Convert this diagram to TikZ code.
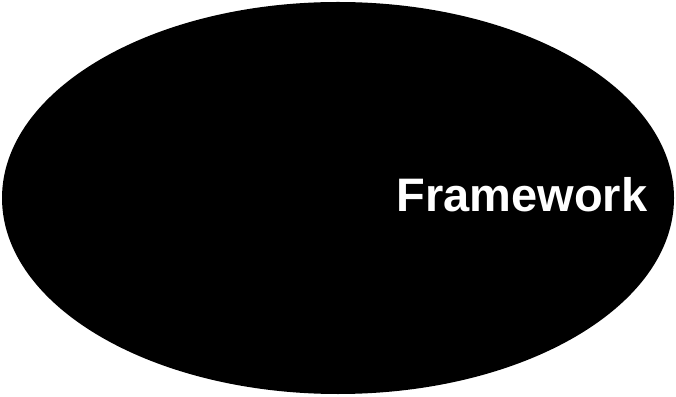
\documentclass[tikz,border=0pt]{standalone}
\usepackage{fontspec}
\setmainfont{Liberation Sans}
\begin{document}
\begin{tikzpicture}[
        x=1pt, y=1pt,
        blob/.style={fill=black},
        label/.style={font=\fontsize{47}{50}\selectfont\bfseries, text=white, inner sep=0pt, anchor=base}
    ]
        \useasboundingbox (0, 0) rectangle (676, 396);

        % Ellipse
        \fill[blob] (338, 198) ellipse [x radius=336, y radius=196];

        % Text
        \node[label] (fw) at (522, 184) {Framework};
    \end{tikzpicture}
\end{document}
